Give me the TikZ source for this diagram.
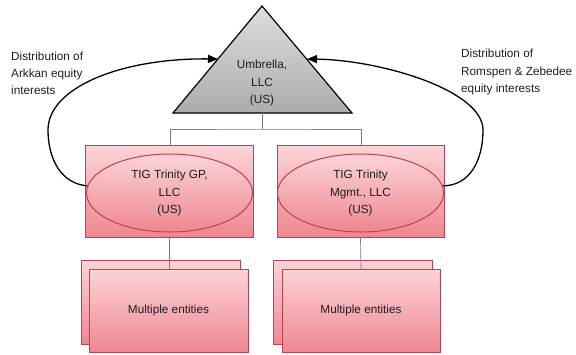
\documentclass[tikz,border=0pt]{standalone}
\usepackage{fontspec}
\setmainfont{Liberation Sans}
\usetikzlibrary{arrows.meta,shapes.geometric}
\definecolor{pinktop}{RGB}{251,212,216}
\definecolor{pinkbot}{RGB}{239,134,145}
\definecolor{pinkline}{RGB}{188,66,82}
\definecolor{graytop}{RGB}{222,222,222}
\definecolor{graybot}{RGB}{172,172,172}
\definecolor{connc}{RGB}{125,125,125}
\definecolor{txtc}{RGB}{30,30,30}
\begin{document}
\begin{tikzpicture}[x=1bp,y=-1bp,
  txt/.style={font=\fontsize{11.8}{17.2}\selectfont, text=txtc},
  pinkbox/.style={draw=pinkline, line width=1bp, top color=pinktop, bottom color=pinkbot, inner sep=0pt},
  pinkell/.style={ellipse, draw=pinkline, line width=1bp, top color=pinktop, bottom color=pinkbot, inner sep=0pt, txt, align=center},
  tri/.style={draw=black, line width=1.2bp, top color=graytop, bottom color=graybot, line join=miter},
  conn/.style={draw=connc, line width=0.7bp},
  curv/.style={draw=black, line width=1.3bp, -{Triangle[length=10bp,width=8bp]}},
  lbl/.style={txt, align=left, inner sep=0pt}
]
\useasboundingbox (0,0) rectangle (576,354);

% triangle
\coordinate (apex) at (262,6);
\coordinate (bl) at (173,113);
\coordinate (br) at (352,113);
\draw[tri] (apex) -- (br) -- (bl) -- cycle;
\node[txt, align=center, inner sep=0pt] (umb) at (262,83) {Umbrella,\\LLC\\(US)};
\coordinate (tribase) at (262.5,113);
\coordinate (hub) at (262.5,129);
\coordinate (tl) at (218,59);
\coordinate (tr) at (307,59);

% middle boxes
\node[pinkbox, minimum width=168bp, minimum height=92bp] (gp) at (169,191) {};
\node[pinkbox, minimum width=167bp, minimum height=92bp] (mg) at (360.5,191) {};
\node[pinkell, minimum width=166bp, minimum height=78bp] (gpe) at (169.5,193) {TIG Trinity GP,\\LLC\\(US)};
\node[pinkell, minimum width=166bp, minimum height=78bp] (mge) at (360.5,193) {TIG Trinity\\Mgmt., LLC\\(US)};

% bottom boxes
\node[pinkbox, minimum width=159bp, minimum height=84bp] (gpb) at (160.5,302) {};
\node[pinkbox, minimum width=159bp, minimum height=84bp] (mgb) at (352.5,302) {};
\draw[conn] (gp.south) -- (169,269);
\draw[conn] (mg.south) -- (361,269);
\node[pinkbox, minimum width=159bp, minimum height=83bp, txt] (gpf) at (168.5,310.5) {Multiple entities};
\node[pinkbox, minimum width=158bp, minimum height=83bp, txt] (mgf) at (361,310.5) {Multiple entities};

% org connectors
\draw[conn] (tribase) -- (hub);
\draw[conn] (gp.north -| 170,0) |- (hub) -| (mg.north -| 361,0);

% curved arrows
\draw[curv] (gpe.175) .. controls (62,184) and (48,160) .. (48,130)
  .. controls (48,88) and (120,58) .. (tl);
\draw[curv] (mge.5) .. controls (470,186) and (483,160) .. (483,130)
  .. controls (483,90) and (380,60) .. (tr);

% labels
\node[lbl, anchor=west] (la) at (11,73) {Distribution of\\Arkkan equity\\interests};
\node[lbl, anchor=west] (ra) at (461,72) {Distribution of\\Romspen \& Zebedee\\equity interests};
\end{tikzpicture}
\end{document}
